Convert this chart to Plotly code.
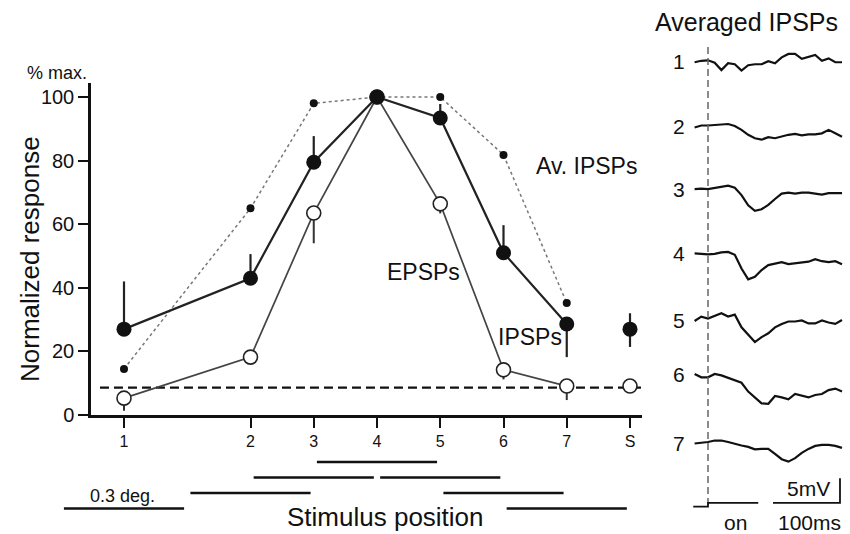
import plotly.graph_objects as go

W, H = 850, 534
FONT = "Arial, Liberation Sans, Helvetica, sans-serif"

# ---------------- main chart data ----------------
tick_labels = ["1", "2", "3", "4", "5", "6", "7", "S"]
positions = [1, 3, 4, 5, 6, 7, 8, 9]

ipsp = [27, 43, 79.5, 100, 93.4, 51, 28.6, 27]
ipsp_err_up = [15, 7.6, 8.2, 0, 4.4, 8.7, 0, 5]
ipsp_err_down = [0, 0, 0, 0, 0, 0, 10.4, 5.6]

epsp = [5.3, 18.2, 63.5, 100, 66.4, 14.2, 9.1, 9.1]
epsp_err_up = [0, 0, 0, 0, 0, 0, 0, 0]
epsp_err_down = [4, 0, 9.5, 0, 3, 3, 4.4, 0]

av_ipsp = [14.5, 65, 98, 100, 100, 81.8, 35.2]

baseline_level = 8.6
baseline_span = [0.62, 9.19]

# stimulus bars (0.3 deg wide), one per stimulus position 1..7
stim_centers = [1, 3, 4, 5, 6, 7, 8]
stim_rows = [0, 1, 2, 3, 2, 1, 0]
stim_width = 1.9

# ---------------- averaged IPSP traces ----------------
t_ms = [-20, -10, 0, 10, 20, 30, 40, 50, 60, 70, 80, 90, 100, 110,
        120, 130, 140, 150, 160, 170, 180, 190, 200]
trace_names = ["1", "2", "3", "4", "5", "6", "7"]
trace_offsets = [77.8, 64.6, 51.8, 38.7, 25.1, 13.9, 0]
tr1 = [-0.1, 0.2, 0.3, -0.2, -1.7, -0.3, -0.5, -1.8, -0.7, -0.5, -0.5, 0.1,
       -0.3, 0.9, 1.6, 1.6, 0.6, 1.0, 1.4, 0.2, 0.7, -0.1, -0.1]
tr2 = [-0.2, 0.2, 0.2, 0.3, 0.3, 0.5, 0.1, -0.7, -1.7, -2.4, -2.7, -2.2,
       -2.4, -2.0, -1.7, -1.5, -1.8, -1.6, -1.6, -1.4, -0.7, -1.4, -2.1]
tr3 = [0, 0.1, 0, 0.2, 0.4, 0.7, 0.3, -1.2, -3.3, -4.4, -4.1, -3.2,
       -2.0, -0.9, -0.7, -0.9, -0.7, -0.7, -0.9, -1.1, -0.8, -0.8, -0.8]
tr4 = [0, -0.1, -0.2, -0.1, 0.2, 0.3, -0.3, -3.1, -5.3, -4.8, -3.4, -2.4,
       -2.1, -1.8, -2.2, -2.0, -1.8, -1.7, -1.2, -1.6, -1.8, -1.6, -2.2]
tr5 = [-0.2, 0.7, 0.3, 0.8, 1.4, 0.7, 1.1, -1.5, -2.9, -4.5, -3.5, -2.7,
       -1.5, -0.8, -0.3, -0.3, -0.1, -0.7, -0.7, -0.1, -0.5, -0.8, 0]
tr6 = [0.2, -0.5, -0.5, 0.2, -0.1, -0.6, -1.2, -1.6, -3.4, -4.6, -5.8, -5.9,
       -4.3, -4.6, -5.0, -3.9, -4.3, -4.6, -4.1, -3.9, -3.1, -2.8, -3.4]
tr7 = [-0.1, 0, 0.2, 0.5, 0.5, 0.2, -0.2, -0.5, -0.8, -1.3, -1.2, -1.2,
       -2.2, -3.3, -3.8, -3.1, -2.0, -1.2, -0.6, -0.4, -0.4, -0.6, -1.0]
traces = [tr1, tr2, tr3, tr4, tr5, tr6, tr7]

stim_t = [-22, 0, 0, 75]
stim_v = [-13.0, -13.0, -12.2, -12.2]
onset_line_v = [80.8, -12.6]
scale_t = [97, 197, 197]
scale_v = [-12.2, -12.2, -7.2]


def px(x):
    return x / W


def py(y):
    return 1 - y / H


fig = go.Figure()

# ---- main panel ----
fig.add_trace(go.Scatter(
    x=baseline_span, y=[baseline_level, baseline_level], mode="lines",
    line=dict(color="#111", width=2.2, dash="9px,5px"), hoverinfo="skip"))

fig.add_trace(go.Scatter(
    x=positions[:7], y=av_ipsp, mode="lines+markers",
    line=dict(color="#777", width=1.5, dash="dot"),
    marker=dict(size=8, color="#111"), cliponaxis=False))

fig.add_trace(go.Scatter(
    x=positions[:7], y=ipsp[:7], mode="lines",
    line=dict(color="#222", width=2.2)))
fig.add_trace(go.Scatter(
    x=positions[:7], y=epsp[:7], mode="lines",
    line=dict(color="#444", width=1.7)))

fig.add_trace(go.Scatter(
    x=positions, y=epsp, mode="markers",
    marker=dict(size=14, color="white", line=dict(color="#222", width=1.6)),
    cliponaxis=False,
    error_y=dict(type="data", symmetric=False, array=epsp_err_up,
                 arrayminus=epsp_err_down, width=0, thickness=2, color="#333")))
fig.add_trace(go.Scatter(
    x=positions, y=ipsp, mode="markers",
    marker=dict(size=15, color="#111"), cliponaxis=False,
    error_y=dict(type="data", symmetric=False, array=ipsp_err_up,
                 arrayminus=ipsp_err_down, width=0, thickness=2.2, color="#222")))

# ---- stimulus bars ----
bx, by = [], []
for c, r in zip(stim_centers, stim_rows):
    bx += [c - stim_width / 2, c + stim_width / 2, None]
    by += [r, r, None]
fig.add_trace(go.Scatter(x=bx, y=by, mode="lines", xaxis="x2", yaxis="y2",
                         line=dict(color="#111", width=2.3)))

# ---- averaged IPSP traces ----
for tr, off in zip(traces, trace_offsets):
    fig.add_trace(go.Scatter(x=t_ms, y=[v + off for v in tr], mode="lines",
                             xaxis="x3", yaxis="y3",
                             line=dict(color="#111", width=2.2)))
fig.add_trace(go.Scatter(x=[0, 0], y=onset_line_v, mode="lines",
                         xaxis="x3", yaxis="y3",
                         line=dict(color="#666", width=1.5, dash="7px,4px")))
fig.add_trace(go.Scatter(x=stim_t, y=stim_v, mode="lines", xaxis="x3", yaxis="y3",
                         line=dict(color="#111", width=1.8)))
fig.add_trace(go.Scatter(x=scale_t, y=scale_v, mode="lines", xaxis="x3", yaxis="y3",
                         line=dict(color="#111", width=1.8)))

# ---------------- layout ----------------
PXU = 63.25  # px per position unit
x_main_range = [1 + (91 - 124) / PXU, 1 + (642 - 124) / PXU]
x_bar_range = [1 + (0 - 124) / PXU, 1 + (642 - 124) / PXU]

annotations = [
    dict(text="% max.", x=px(57), y=py(73), font=dict(size=18)),
    dict(text="Normalized response", x=px(30), y=py(259), textangle=-90,
         font=dict(size=26)),
    dict(text="Av. IPSPs", x=px(586), y=py(166), font=dict(size=23)),
    dict(text="EPSPs", x=px(423), y=py(272), font=dict(size=23)),
    dict(text="IPSPs", x=px(530), y=py(337), font=dict(size=23)),
    dict(text="0.3 deg.", x=px(122), y=py(496), font=dict(size=18)),
    dict(text="Stimulus position", x=px(385), y=py(517), font=dict(size=26)),
    dict(text="Averaged IPSPs", x=px(746), y=py(22), font=dict(size=25)),
    dict(text="5mV", x=px(808), y=py(488), font=dict(size=21)),
    dict(text="on", x=px(735), y=py(522), font=dict(size=21)),
    dict(text="100ms", x=px(809), y=py(522), font=dict(size=21)),
]
for a in annotations:
    a.update(xref="paper", yref="paper", showarrow=False,
             xanchor="center", yanchor="middle")
for name, off in zip(trace_names, trace_offsets):
    annotations.append(dict(text=name, x=-31, y=off, xref="x3", yref="y3",
                            showarrow=False, xanchor="right", yanchor="middle",
                            font=dict(size=21)))

fig.update_layout(
    template="none",
    width=W, height=H,
    margin=dict(l=0, r=0, t=0, b=0, pad=0, autoexpand=False),
    paper_bgcolor="white", plot_bgcolor="rgba(0,0,0,0)",
    showlegend=False, font=dict(family=FONT, color="#111"),
    xaxis=dict(domain=[px(91), px(642)], range=x_main_range,
               tickvals=positions, ticktext=tick_labels,
               ticks="outside", ticklen=10, tickwidth=2.2, tickcolor="#111",
               tickfont=dict(size=16), showline=True, linewidth=2.5,
               linecolor="#111", showgrid=False, zeroline=False,
               anchor="y", fixedrange=True, automargin=False),
    yaxis=dict(domain=[py(415), py(83)], range=[0, (415 - 83) / 3.18],
               tickvals=[0, 20, 40, 60, 80, 100],
               ticks="outside", ticklen=10, tickwidth=2.2, tickcolor="#111",
               tickfont=dict(size=20), showline=True, linewidth=2.5,
               linecolor="#111", showgrid=False, zeroline=False,
               anchor="x", fixedrange=True, automargin=False),
    xaxis2=dict(domain=[0, px(642)], range=x_bar_range, visible=False,
                anchor="y2", automargin=False),
    yaxis2=dict(domain=[py(520), py(450)],
                range=[(508.5 - 520) / 15.5, (508.5 - 450) / 15.5],
                visible=False, anchor="x2", automargin=False),
    xaxis3=dict(domain=[px(640), 1], range=[(640 - 708) / 0.67, (850 - 708) / 0.67],
                visible=False, anchor="y3", automargin=False),
    yaxis3=dict(domain=[0, 1], range=[(443 - 534) / 4.9, 443 / 4.9],
                visible=False, anchor="x3", automargin=False),
    annotations=annotations,
)

fig.write_html("out.html",
               config={"displayModeBar": False},
               post_script="document.body.style.margin='0px';")
